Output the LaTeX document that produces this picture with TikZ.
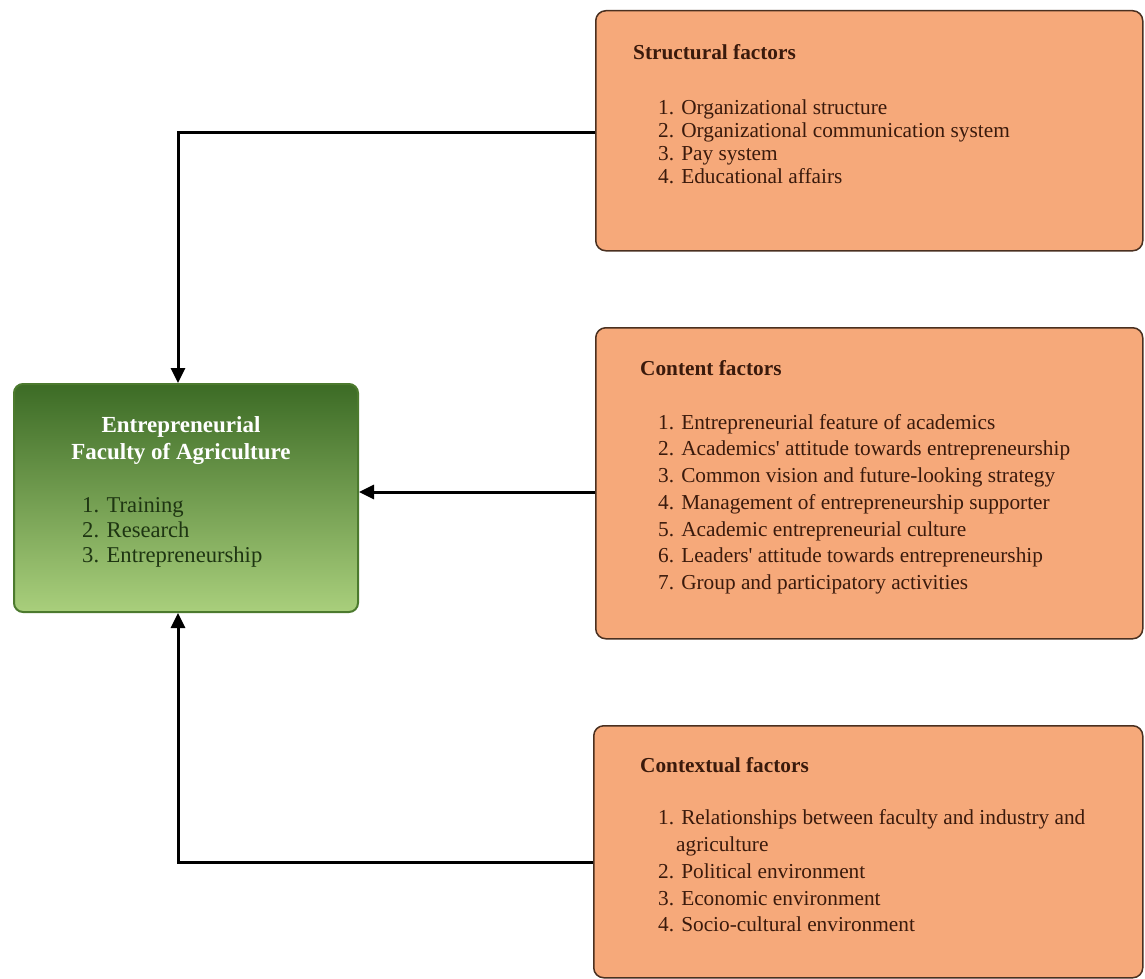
\documentclass[tikz,border=0pt]{standalone}
\usepackage{fontspec}
\setmainfont{Liberation Serif}
\usetikzlibrary{arrows.meta}
\definecolor{boxfill}{HTML}{F6A97A}
\definecolor{boxline}{HTML}{4A3020}
\definecolor{boxtext}{HTML}{3A1A0C}
\definecolor{gtop}{HTML}{3C6B25}
\definecolor{gbot}{HTML}{A9CF7C}
\definecolor{gline}{HTML}{4C7A2E}
\definecolor{gtext}{HTML}{1E3512}
\tikzset{
  factorbox/.style={draw=boxline, line width=1.5pt, fill=boxfill, rounded corners=10pt, anchor=north west, inner sep=0pt},
  greenbox/.style={draw=gline, line width=2pt, top color=gtop, bottom color=gbot, rounded corners=9pt, anchor=north west, inner sep=0pt},
  txt/.style={anchor=mid west, inner sep=0pt, text=boxtext, font=\fontsize{21.3}{25}\selectfont},
  ttl/.style={txt, font=\fontsize{21.3}{25}\selectfont\bfseries},
  gttl/.style={anchor=mid, inner sep=0pt, text=white, font=\fontsize{23}{27}\selectfont\bfseries},
  gtxt/.style={anchor=mid west, inner sep=0pt, text=gtext, font=\fontsize{22.6}{27}\selectfont},
  conn/.style={line width=3pt, black, -{Triangle[length=15pt,width=14pt]}}
}
\begin{document}
\begin{tikzpicture}[x=1pt,y=-1pt]
\useasboundingbox (0,0) rectangle (1145,979);
% boxes
\node[factorbox, minimum width=547pt, minimum height=240pt] (s) at (595,10) {};
\node[factorbox, minimum width=547pt, minimum height=311pt] (c) at (595,327) {};
\node[factorbox, minimum width=549pt, minimum height=252pt] (x) at (593,725) {};
\node[greenbox, minimum width=344pt, minimum height=228pt] (g) at (13,383) {};
% structural
\node[ttl] (s0) at (633,57) {Structural factors};
\node[txt] (s1) at (658,112) {1. Organizational structure};
\node[txt] (s2) at (658,135) {2. Organizational communication system};
\node[txt] (s3) at (658,158) {3. Pay system};
\node[txt] (s4) at (658,181) {4. Educational affairs};
% content
\node[ttl] (c0) at (640,373) {Content factors};
\node[txt] (c1) at (658,427) {1. Entrepreneurial feature of academics};
\node[txt] (c2) at (658,453.7) {2. Academics\textquotesingle{} attitude towards entrepreneurship};
\node[txt] (c3) at (658,480.4) {3. Common vision and future-looking strategy};
\node[txt] (c4) at (658,507.1) {4. Management of entrepreneurship supporter};
\node[txt] (c5) at (658,533.8) {5. Academic entrepreneurial culture};
\node[txt] (c6) at (658,560.5) {6. Leaders\textquotesingle{} attitude towards entrepreneurship};
\node[txt] (c7) at (658,587.2) {7. Group and participatory activities};
% contextual
\node[ttl] (x0) at (640,770) {Contextual factors};
\node[txt] (x1) at (658,822) {1. Relationships between faculty and industry and};
\node[txt] (x1b) at (676,849) {agriculture};
\node[txt] (x2) at (658,876) {2. Political environment};
\node[txt] (x3) at (658,903) {3. Economic environment};
\node[txt] (x4) at (658,929) {4. Socio-cultural environment};
% green
\node[gttl] (g0) at (181,430) {Entrepreneurial};
\node[gttl] (g1) at (181,457) {Faculty of Agriculture};
\node[gtxt] (g2) at (82,510) {1. Training};
\node[gtxt] (g3) at (82,535) {2. Research};
\node[gtxt] (g4) at (82,560) {3. Entrepreneurship};
% connectors
\coordinate (k1) at (178,133);
\coordinate (k2) at (178,862);
\draw[conn] (s.west |- k1) -- (k1) -- (k1 |- g.north);
\draw[conn] (c.west |- 0,492) -- (g.east |- 0,492);
\draw[conn] (x.west |- k2) -- (k2) -- (k2 |- g.south);
\end{tikzpicture}
\end{document}
